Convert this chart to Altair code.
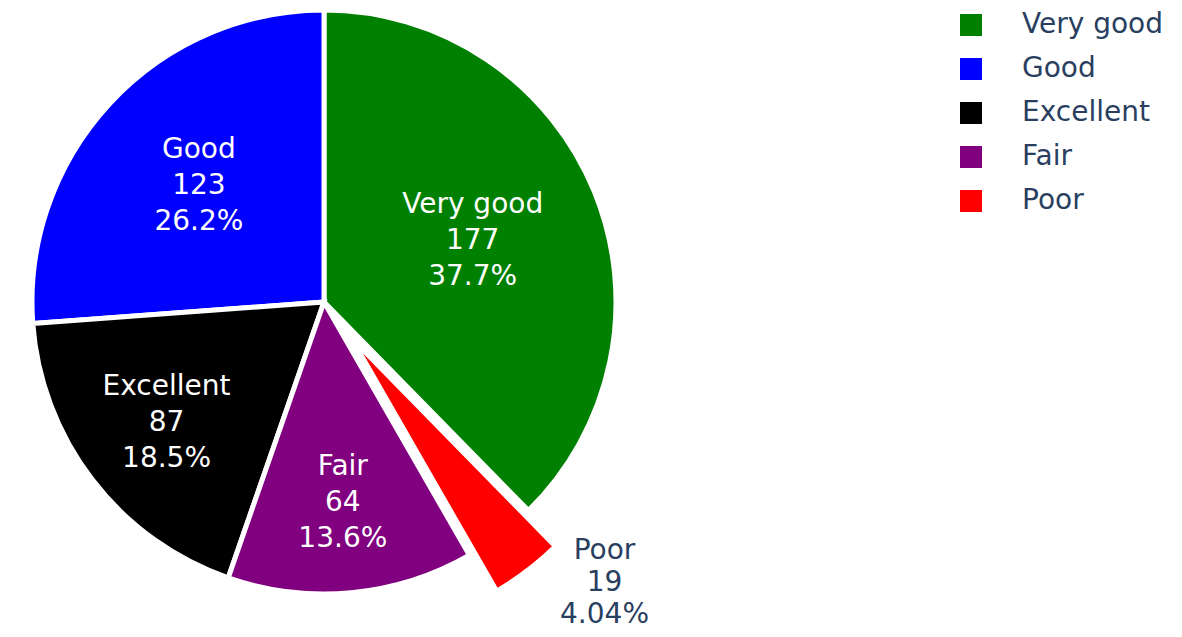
import altair as alt
import pandas as pd

# ---- data ----
categories = ["Very good", "Good", "Excellent", "Fair", "Poor"]
counts = [177, 123, 87, 64, 19]
colors = ["#008000", "#0000ff", "#000000", "#800080", "#ff0000"]
clockwise_order = ["Very good", "Poor", "Fair", "Excellent", "Good"]

# ---- styles ----
CX, CY, R = 316, 294, 292          # pie centre and radius (view pixels)
PULL = {"Poor": 45}                # pulled-out slice distance
LABEL_R = {"Very good": 0.55, "Good": 0.585, "Excellent": 0.68, "Fair": 0.69, "Poor": 1.0}
OUTSIDE = ["Poor"]
FONT = "DejaVu Sans"
FS = 28
LH = 36
TEXT_DARK = "#2a3f5f"

df = pd.DataFrame({
    "category": categories,
    "count": counts,
    "rank": [clockwise_order.index(c) for c in categories],
    "pull": [PULL.get(c, 0) for c in categories],
    "label_r": [LABEL_R[c] for c in categories],
    "outside": [c in OUTSIDE for c in categories],
})

base = (
    alt.Chart(df)
    .transform_joinaggregate(total="sum(count)")
    .transform_window(cum="sum(count)", sort=[alt.SortField("rank")])
    .transform_calculate(
        t0="2*PI*(datum.cum - datum.count)/datum.total",
        t1="2*PI*datum.cum/datum.total",
    )
    .transform_calculate(mid="(datum.t0 + datum.t1)/2")
    .transform_calculate(
        px=f"{CX} + datum.pull*sin(datum.mid)",
        py=f"{CY} - datum.pull*cos(datum.mid)",
    )
    .transform_calculate(
        tx=f"datum.px + datum.label_r*{R}*sin(datum.mid)",
        ty=f"datum.py - datum.label_r*{R}*cos(datum.mid)",
        label="datum.category + '\\n' + datum.count + '\\n' + format(datum.count/datum.total, '.3p')",
    )
)

arcs = base.mark_arc(outerRadius=R, stroke="white", strokeWidth=5).encode(
    theta=alt.Theta("t0:Q", scale=None, stack=False),
    theta2=alt.Theta2("t1:Q"),
    x=alt.X("px:Q", scale=None, axis=None),
    y=alt.Y("py:Q", scale=None, axis=None),
    color=alt.Color(
        "category:N",
        scale=alt.Scale(domain=categories, range=colors),
        legend=alt.Legend(
            title=None,
            orient="none",
            legendX=949,
            legendY=3,
            symbolType="square",
            symbolSize=484,
            symbolStrokeWidth=0,
            labelFont=FONT,
            labelFontSize=FS,
            labelColor=TEXT_DARK,
            labelOffset=37,
            labelLimit=300,
            rowPadding=16,
            padding=0,
        ),
    ),
)

inside = base.transform_filter("!datum.outside").mark_text(
    font=FONT, fontSize=FS, lineHeight=LH, lineBreak="\n",
    color="white", align="center", baseline="middle", dy=-LH,
).encode(
    x=alt.X("tx:Q", scale=None, axis=None),
    y=alt.Y("ty:Q", scale=None, axis=None),
    text="label:N",
)

outside = base.transform_filter("datum.outside").mark_text(
    font=FONT, fontSize=FS, lineHeight=32, lineBreak="\n",
    color=TEXT_DARK, align="center", baseline="middle", dx=77, dy=-20,
).encode(
    x=alt.X("tx:Q", scale=None, axis=None),
    y=alt.Y("ty:Q", scale=None, axis=None),
    text="label:N",
)

chart = (
    alt.layer(arcs, inside, outside)
    .properties(width=1166, height=621, padding=0, autosize=alt.AutoSizeParams(type="none"))
    .configure_view(stroke=None)
)

chart.save("out.html", embed_options={"renderer": "svg", "actions": False})
